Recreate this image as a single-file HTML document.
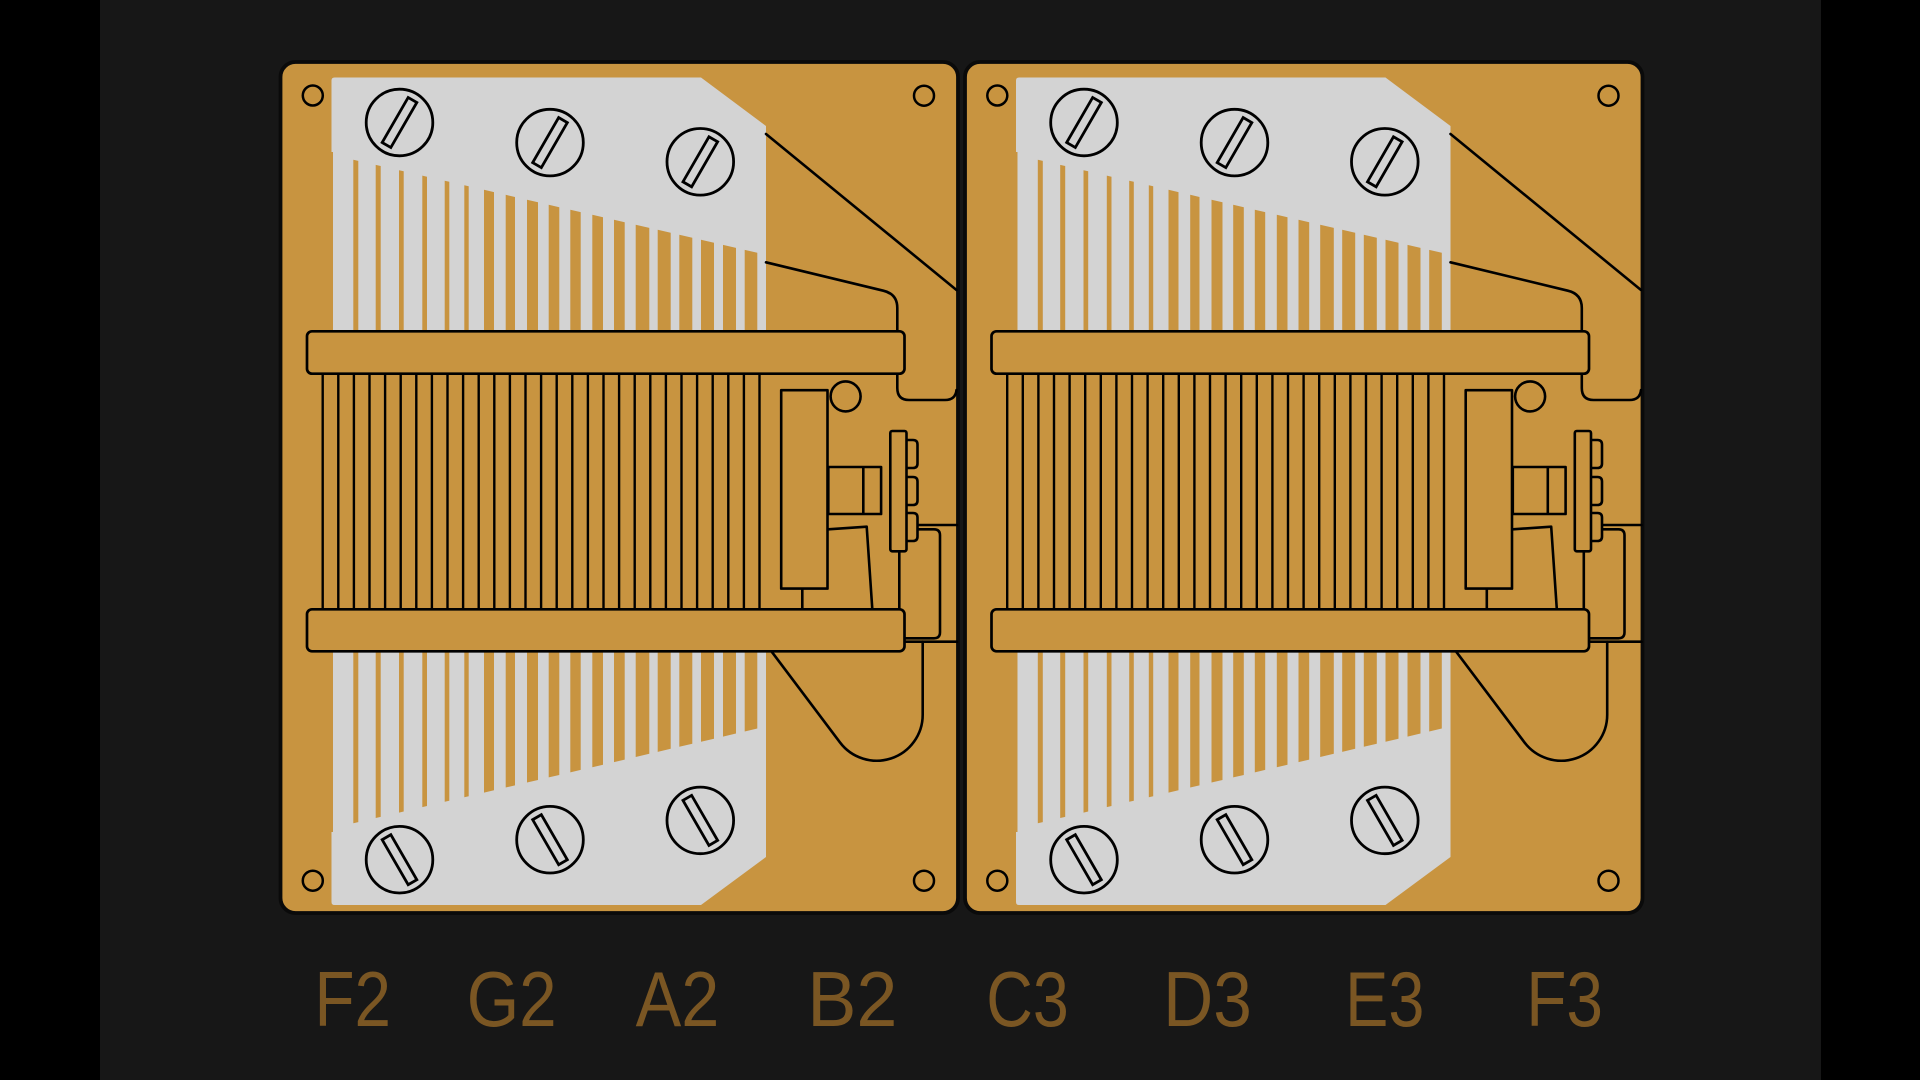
<!DOCTYPE html>
<html>
<head>
<meta charset="utf-8">
<style>
html,body{margin:0;padding:0;background:#000;}
body{width:1920px;height:1080px;overflow:hidden;}
svg{display:block;}
</style>
</head>
<body>
<svg width="1920" height="1080" viewBox="0 0 1920 1080" xmlns="http://www.w3.org/2000/svg">
<rect x="0" y="0" width="1920" height="1080" fill="#000"/>
<rect x="100" y="0" width="1721" height="1080" fill="#171717"/>

<g id="p">
  <rect x="280.5" y="62" width="677.5" height="851" rx="15" fill="#c89440" stroke="#0a0a0a" stroke-width="3.8"/>
  <!-- silver plates -->
  <path d="M331.5,80.5 Q331.5,77.5 334.5,77.5 L701,77.5 L766,126 L766,331 L333,331 L333,152 L331.5,152 Z" fill="#d3d3d3"/>
  <path d="M333,651 L766,651 L766,857 L701,905 L334.5,905 Q331.5,905 331.5,902 L331.5,832 L333,832 Z" fill="#d3d3d3"/>
  <!-- top slots -->
  <g fill="#c89440">
    <polygon points="353.3,159.7 358.3,160.9 358.3,331 353.3,331"/>
    <polygon points="375.7,164.9 380.7,166.0 380.7,331 375.7,331"/>
    <polygon points="399.0,170.2 403.7,171.3 403.7,331 399.0,331"/>
    <polygon points="422.3,175.6 427.0,176.7 427.0,331 422.3,331"/>
    <polygon points="444.7,180.8 449.3,181.8 449.3,331 444.7,331"/>
    <polygon points="464.3,185.3 468.7,186.3 468.7,331 464.3,331"/>
    <polygon points="484.0,189.8 494.0,192.1 494.0,331 484.0,331"/>
    <polygon points="505.7,194.8 515.0,197.0 515.0,331 505.7,331"/>
    <polygon points="527.0,199.7 538.0,202.3 538.0,331 527.0,331"/>
    <polygon points="548.7,204.7 559.3,207.2 559.3,331 548.7,331"/>
    <polygon points="570.3,209.7 580.7,212.1 580.7,331 570.3,331"/>
    <polygon points="592.3,214.8 603.0,217.2 603.0,331 592.3,331"/>
    <polygon points="614.0,219.8 624.7,222.2 624.7,331 614.0,331"/>
    <polygon points="635.7,224.8 649.3,227.9 649.3,331 635.7,331"/>
    <polygon points="657.7,229.8 670.7,232.8 670.7,331 657.7,331"/>
    <polygon points="679.3,234.8 692.3,237.8 692.3,331 679.3,331"/>
    <polygon points="701.0,239.8 714.0,242.8 714.0,331 701.0,331"/>
    <polygon points="723.0,244.9 736.0,247.9 736.0,331 723.0,331"/>
    <polygon points="744.7,249.9 757.3,252.8 757.3,331 744.7,331"/>
  </g>
  <!-- bottom slots -->
  <g fill="#c89440">
    <polygon points="353.3,651 358.3,651 358.3,822.1 353.3,823.3"/>
    <polygon points="375.7,651 380.7,651 380.7,816.9 375.7,818.0"/>
    <polygon points="399.0,651 403.7,651 403.7,811.5 399.0,812.6"/>
    <polygon points="422.3,651 427.0,651 427.0,806.0 422.3,807.1"/>
    <polygon points="444.7,651 449.3,651 449.3,800.8 444.7,801.8"/>
    <polygon points="464.3,651 468.7,651 468.7,796.2 464.3,797.2"/>
    <polygon points="484.0,651 494.0,651 494.0,790.3 484.0,792.6"/>
    <polygon points="505.7,651 515.0,651 515.0,785.4 505.7,787.5"/>
    <polygon points="527.0,651 538.0,651 538.0,780.0 527.0,782.5"/>
    <polygon points="548.7,651 559.3,651 559.3,775.0 548.7,777.4"/>
    <polygon points="570.3,651 580.7,651 580.7,769.9 570.3,772.4"/>
    <polygon points="592.3,651 603.0,651 603.0,764.7 592.3,767.2"/>
    <polygon points="614.0,651 624.7,651 624.7,759.6 614.0,762.1"/>
    <polygon points="635.7,651 649.3,651 649.3,753.8 635.7,757.0"/>
    <polygon points="657.7,651 670.7,651 670.7,748.8 657.7,751.9"/>
    <polygon points="679.3,651 692.3,651 692.3,743.8 679.3,746.8"/>
    <polygon points="701.0,651 714.0,651 714.0,738.7 701.0,741.7"/>
    <polygon points="723.0,651 736.0,651 736.0,733.5 723.0,736.6"/>
    <polygon points="744.7,651 757.3,651 757.3,728.5 744.7,731.5"/>
  </g>
  <!-- holes -->
  <g fill="none" stroke="#000" stroke-width="2.5">
    <circle cx="312.8" cy="95.5" r="10"/>
    <circle cx="924" cy="95.7" r="10"/>
    <circle cx="312.8" cy="880.7" r="10"/>
    <circle cx="924" cy="880.7" r="10"/>
  </g>
  <!-- screws -->
  <g fill="none" stroke="#000" stroke-width="2.8">
    <circle cx="399.5" cy="122.5" r="33.3"/>
    <rect x="-5" y="-26" width="10" height="52" transform="translate(399.5,122.5) rotate(30)"/>
    <circle cx="550" cy="142.6" r="33.3"/>
    <rect x="-5" y="-26" width="10" height="52" transform="translate(550,142.6) rotate(30)"/>
    <circle cx="700.3" cy="161.8" r="33.3"/>
    <rect x="-5" y="-26" width="10" height="52" transform="translate(700.3,161.8) rotate(30)"/>
    <circle cx="399.5" cy="859.7" r="33.3"/>
    <rect x="-5" y="-26" width="10" height="52" transform="translate(399.5,859.7) rotate(-30)"/>
    <circle cx="550" cy="839.7" r="33.3"/>
    <rect x="-5" y="-26" width="10" height="52" transform="translate(550,839.7) rotate(-30)"/>
    <circle cx="700.3" cy="820.4" r="33.3"/>
    <rect x="-5" y="-26" width="10" height="52" transform="translate(700.3,820.4) rotate(-30)"/>
  </g>
  <!-- strings -->
  <path fill="none" stroke="#000" stroke-width="2.4" d="M322.7,372V610 M338.3,372V610 M353.9,372V610 M369.5,372V610 M385.1,372V610 M400.7,372V610 M416.3,372V610 M431.9,372V610 M447.5,372V610 M463.1,372V610 M478.7,372V610 M494.3,372V610 M509.9,372V610 M525.5,372V610 M541.1,372V610 M556.7,372V610 M572.3,372V610 M587.9,372V610 M603.5,372V610 M619.1,372V610 M634.7,372V610 M650.3,372V610 M665.9,372V610 M681.5,372V610 M697.1,372V610 M712.7,372V610 M728.3,372V610 M743.9,372V610 M759.5,372V610"/>
  <!-- mechanism lines -->
  <g fill="none" stroke="#000" stroke-width="2.6" stroke-linejoin="round" stroke-linecap="round">
    <path d="M766,134 L956.5,290"/>
    <path d="M766,262.3 L883.3,290.7 Q897.3,294 897.3,308 L897.3,332"/>
    <path d="M897.3,372 L897.3,388 Q897.3,400 909,400 L945,400 Q955.5,400 956.5,390"/>
    <path d="M917.3,525 L957,525"/>
    <path d="M917.3,529.3 L934,529.3 Q940,529.3 940,535.3 L940,632.3 Q940,638.3 934,638.3 L905.5,638.3"/>
    <path d="M905.5,641.7 L957,641.7"/>
    <path d="M771.7,651.7 L839.9,742.3 A46,46 0 0 0 922.7,714.7 L922.7,641.7"/>
    <path d="M802.3,588 L802.3,609"/>
    <path d="M828.3,529.3 L866.7,526.7 L872.3,609"/>
    <path d="M899.3,551 L899.3,609"/>
  </g>
  <!-- rails -->
  <rect x="307" y="331.3" width="597.5" height="42.4" rx="5" fill="#c89440" stroke="#000" stroke-width="2.7"/>
  <rect x="307" y="609.3" width="597.5" height="42" rx="5" fill="#c89440" stroke="#000" stroke-width="2.7"/>
  <!-- block, circle, shaft, comb -->
  <g fill="#c89440" stroke="#000" stroke-width="2.6" stroke-linejoin="round">
    <circle cx="845.6" cy="396.4" r="15"/>
    <rect x="781.2" y="390.2" width="46.3" height="198.4"/>
    <rect x="828.3" y="467" width="52.8" height="47"/>
    <path d="M863.3,467 L863.3,514" fill="none"/>
    <path d="M906.5,440 L913,440 Q917.5,440 917.5,444.5 L917.5,463.5 Q917.5,468 913,468 L906.5,468"/>
    <path d="M906.5,477 L913,477 Q917.5,477 917.5,481.5 L917.5,500.5 Q917.5,505 913,505 L906.5,505"/>
    <path d="M906.5,513 L913,513 Q917.5,513 917.5,517.5 L917.5,536.5 Q917.5,541 913,541 L906.5,541"/>
    <rect x="890.3" y="431" width="16.2" height="120.3" rx="2"/>
  </g>
</g>
<use href="#p" transform="translate(684.5,0)"/>

<!-- labels -->
<g font-family="'Liberation Sans', sans-serif" font-size="78" fill="#7a5623">
  <text x="314.5" y="1026" textLength="76.5" lengthAdjust="spacingAndGlyphs">F2</text>
  <text x="466.7" y="1026" textLength="90" lengthAdjust="spacingAndGlyphs">G2</text>
  <text x="635.6" y="1026" textLength="83.7" lengthAdjust="spacingAndGlyphs">A2</text>
  <text x="807.2" y="1026" textLength="90.2" lengthAdjust="spacingAndGlyphs">B2</text>
  <text x="986.2" y="1026" textLength="82.6" lengthAdjust="spacingAndGlyphs">C3</text>
  <text x="1163.1" y="1026" textLength="88.7" lengthAdjust="spacingAndGlyphs">D3</text>
  <text x="1345.1" y="1026" textLength="79.3" lengthAdjust="spacingAndGlyphs">E3</text>
  <text x="1526.2" y="1026" textLength="76.8" lengthAdjust="spacingAndGlyphs">F3</text>
</g>
</svg>
</body>
</html>
